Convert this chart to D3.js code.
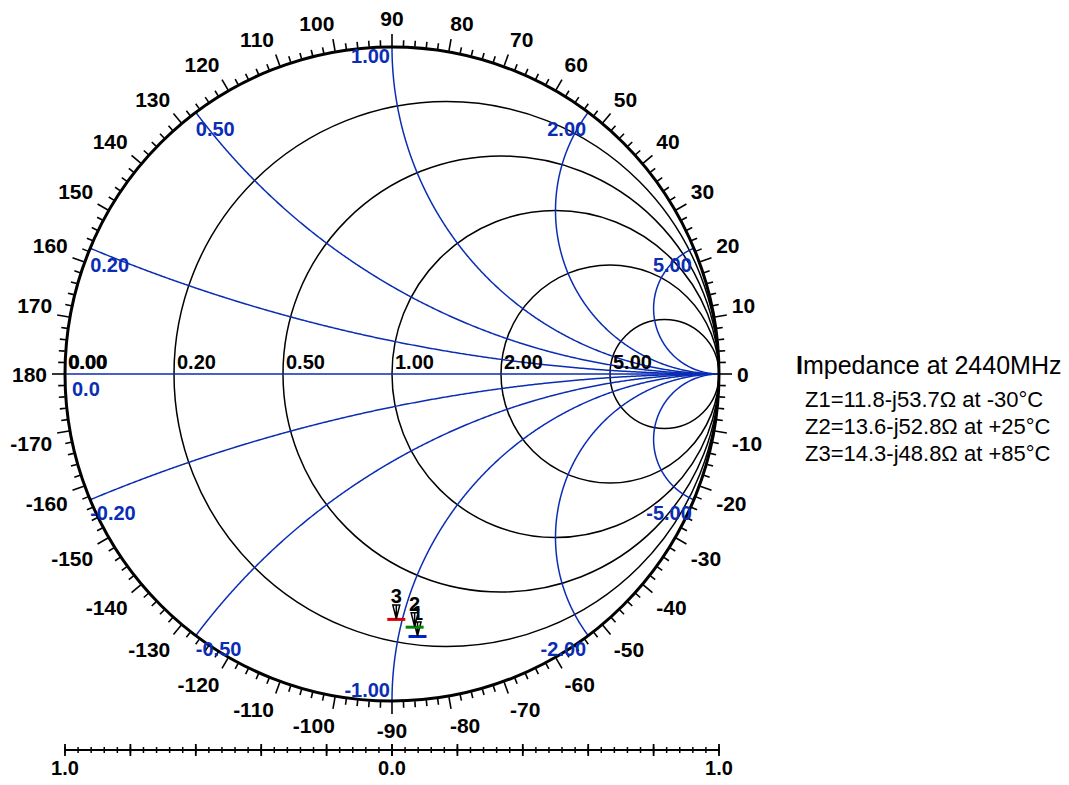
<!DOCTYPE html>
<html><head><meta charset="utf-8">
<script src="https://cdn.jsdelivr.net/npm/d3@7"></script>
<style>
html,body{margin:0;padding:0;background:#fff;}
svg{display:block;font-family:"Liberation Sans",Arial,sans-serif;}
</style></head>
<body>
<svg id="chart" width="1069" height="785"></svg>
<script>
// ---- data ----
const Z0 = 50;
const resistanceValues = [0.2, 0.5, 1, 2, 5];
const resistanceLabels = ["0.20", "0.50", "1.00", "2.00", "5.00"];
const reactanceValues = [0.2, 0.5, 1, 2, 5, -0.2, -0.5, -1, -2, -5];
const reactanceLabels = ["0.20", "0.50", "1.00", "2.00", "5.00", "-0.20", "-0.50", "-1.00", "-2.00", "-5.00"];
const angleLabels = d3.range(-170, 181, 10);
const angleTicks = d3.range(-178, 181, 2);
const magnitudeMajor = [0, 0.2, 0.4, 0.6, 0.8, 1.0];
const magnitudeMinor = d3.range(0, 1.0001, 0.04);
const magnitudeLabels = ["1.0", "0.0", "1.0"];
const markerIds = ["1", "2", "3"];
const markerR = [11.8, 13.6, 14.3];
const markerX = [-53.7, -52.8, -48.8];
const markerColors = ["#0022cc", "#008800", "#dd0000"];
const markerTemps = ["-30°C", "+25°C", "+85°C"];
const legendTitle = "Impedance at 2440MHz";

// ---- layout ----
const cx = 392, cy = 374, R = 327;
const BLUE = "#0a2db4";
const svg = d3.select("#chart");
const xs = d3.scaleLinear().domain([-1, 1]).range([cx - R, cx + R]);
const ys = d3.scaleLinear().domain([-1, 1]).range([cy + R, cy - R]);

function gamma(r, x) { // (z-1)/(z+1)
  const ar = r - 1, ai = x, br = r + 1, bi = x;
  const d = br * br + bi * bi;
  return [(ar * br + ai * bi) / d, (ai * br - ar * bi) / d];
}

const g = svg.append("g");

// resistance circles
g.selectAll("circle.res").data(resistanceValues).join("circle")
  .attr("cx", r => xs(r / (1 + r)))
  .attr("cy", ys(0))
  .attr("r", r => xs(1 / (1 + r)) - xs(0))
  .attr("fill", "none").attr("stroke", "#000").attr("stroke-width", 1.5);

// reactance arcs
const tSamples = d3.range(0, 1, 0.002).concat([0.99999]);
const line = d3.line().x(d => xs(d[0])).y(d => ys(d[1]));
g.selectAll("path.reac").data(reactanceValues).join("path")
  .attr("d", x => line(tSamples.map(t => gamma(t / (1 - t), x))))
  .attr("fill", "none").attr("stroke", BLUE).attr("stroke-width", 1.5);

// real axis
g.append("line").attr("x1", xs(-1)).attr("x2", xs(1)).attr("y1", ys(0)).attr("y2", ys(0))
  .attr("stroke", BLUE).attr("stroke-width", 1.6);

// outer circle
g.append("circle").attr("cx", cx).attr("cy", cy).attr("r", R)
  .attr("fill", "none").attr("stroke", "#000").attr("stroke-width", 3);

// angle ticks
const rad = a => a * Math.PI / 180;
g.selectAll("line.at").data(angleTicks).join("line")
  .attr("x1", a => cx + (R + 1) * Math.cos(rad(a)))
  .attr("y1", a => cy - (R + 1) * Math.sin(rad(a)))
  .attr("x2", a => cx + (R + (a % 10 === 0 ? 13 : 7)) * Math.cos(rad(a)))
  .attr("y2", a => cy - (R + (a % 10 === 0 ? 13 : 7)) * Math.sin(rad(a)))
  .attr("stroke", "#000").attr("stroke-width", 1.6);

// angle labels (corner-anchored just outside the ticks)
const clamp = v => Math.max(-1, Math.min(1, v));
g.selectAll("text.al").data(angleLabels).join("text")
  .each(function (a) {
    const t = d3.select(this).text(String(a))
      .attr("font-size", 21).attr("font-weight", "bold").attr("text-anchor", "middle");
    const w = this.getComputedTextLength();
    const c = Math.cos(rad(a)), s = Math.sin(rad(a));
    const px = cx + (R + 18) * c, py = cy - (R + 18) * s;
    const cc = clamp(5 * c), ss = clamp(5 * s);
    t.attr("x", px + cc * w / 2).attr("y", py + 8 - 11 * ss);
  });

// resistance labels
g.selectAll("text.rl").data(resistanceValues).join("text")
  .attr("x", r => xs((r - 1) / (r + 1)) + 3)
  .attr("y", ys(0) - 5)
  .attr("font-size", 20).attr("font-weight", "bold").attr("fill", "#000")
  .text((r, i) => resistanceLabels[i]);
[0, 0.7].forEach(o => {
  g.append("text").attr("x", xs(-1) + 3 + o).attr("y", ys(0) - 5)
    .attr("font-size", 20).attr("font-weight", "bold").text("0.00");
});
g.append("text").attr("x", xs(-1) + 7).attr("y", ys(0) + 22)
  .attr("font-size", 20).attr("font-weight", "bold").attr("fill", BLUE).text("0.0");

// reactance labels
g.selectAll("text.xl").data(reactanceValues).join("text")
  .each(function (x, i) {
    const p = gamma(0, x);
    const px = xs(p[0]), py = ys(p[1]);
    let anchor = p[0] < -0.01 ? "start" : "end";
    let dy = x > 0 ? 24 : 20;
    let dx = p[0] < -0.01 ? 0 : -2;
    if (x === -1) { dy = -4; }
    if (x === 1) { dy = 16; dx = -2; }
    d3.select(this).attr("x", px + dx).attr("y", py + dy)
      .attr("text-anchor", anchor).attr("font-size", 20).attr("font-weight", "bold")
      .attr("fill", BLUE).text(reactanceLabels[i]);
  });

// markers
markerIds.forEach((id, i) => {
  const p = gamma(markerR[i] / Z0, markerX[i] / Z0);
  const px = xs(p[0]), py = ys(p[1]);
  g.append("line").attr("x1", px - 9).attr("x2", px + 9).attr("y1", py + 0.5).attr("y2", py + 0.5)
    .attr("stroke", markerColors[i]).attr("stroke-width", 3);
  g.append("path").attr("d", `M${px - 3.5},${py - 14}L${px + 3.5},${py - 14}L${px},${py}Z M${px},${py - 14}L${px},${py - 3}`)
    .attr("fill", "#fff").attr("stroke", "#000").attr("stroke-width", 1.5);
  g.append("text").attr("x", px).attr("y", py - 16).attr("text-anchor", "middle")
    .attr("font-size", 20).attr("font-weight", "bold").text(id);
});

// bottom magnitude scale
const yb = 750;
const sl = d3.scaleLinear().domain([1, 0]).range([xs(-1), cx]);
const sr = d3.scaleLinear().domain([0, 1]).range([cx, xs(1)]);
g.append("line").attr("x1", sl(1)).attr("x2", sr(1)).attr("y1", yb).attr("y2", yb)
  .attr("stroke", "#000").attr("stroke-width", 1.8);
[sl, sr].forEach(sc => {
  g.selectAll(null).data(magnitudeMinor).join("line")
    .attr("x1", d => sc(d)).attr("x2", d => sc(d)).attr("y1", yb - 3).attr("y2", yb + 3)
    .attr("stroke", "#000").attr("stroke-width", 1.5);
  g.selectAll(null).data(magnitudeMajor).join("line")
    .attr("x1", d => sc(d)).attr("x2", d => sc(d)).attr("y1", yb - 6).attr("y2", yb + 6)
    .attr("stroke", "#000").attr("stroke-width", 1.8);
});
[sl(1), cx, sr(1)].forEach((x, i) => {
  g.append("text").attr("x", x).attr("y", 775).attr("text-anchor", "middle")
    .attr("font-size", 20).attr("font-weight", "bold").text(magnitudeLabels[i]);
});

// legend
const lt = g.append("text").attr("x", 796).attr("y", 374).attr("font-size", 25);
lt.append("tspan").attr("font-weight", "bold").text(legendTitle[0]);
lt.append("tspan").text(legendTitle.slice(1));
markerIds.forEach((id, i) => {
  const xv = Math.abs(markerX[i]).toFixed(1);
  g.append("text").attr("x", 805).attr("y", 407 + 27 * i).attr("font-size", 22)
    .text(`Z${id}=${markerR[i].toFixed(1)}-j${xv}Ω at ${markerTemps[i]}`);
});
</script>
</body></html>
